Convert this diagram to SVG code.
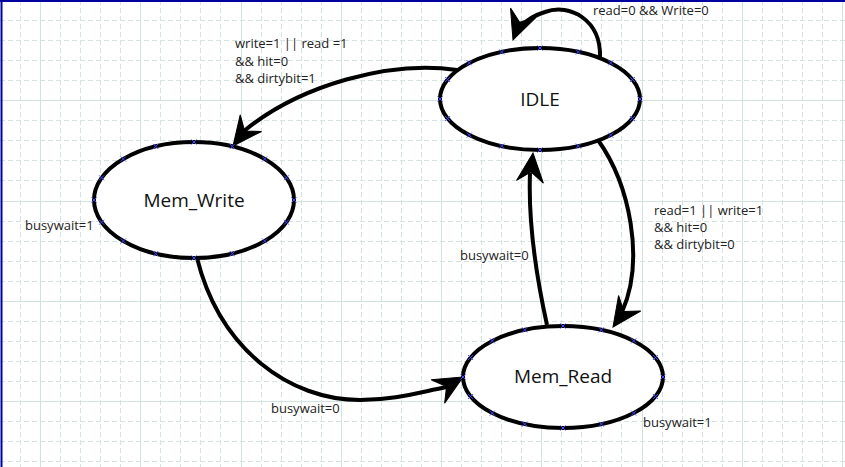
<svg xmlns="http://www.w3.org/2000/svg" xmlns:xlink="http://www.w3.org/1999/xlink" width="845" height="467" viewBox="0 0 845 467">
<style>
.gmin{fill:none;stroke:#d5e4e2;stroke-width:1;stroke-dasharray:5,3}
.gmaj{fill:none;stroke:#d2e2e0;stroke-width:1}
.node{fill:#fff;stroke:#000;stroke-width:4}
.edge{fill:none;stroke:#000;stroke-width:4}
.ah{fill:#000;stroke:#000;stroke-width:1;stroke-linejoin:miter}
.nl{font-family:"Open Sans","DejaVu Sans",sans-serif;font-size:19px;fill:#111;text-anchor:middle}
.el{font-family:"Open Sans","DejaVu Sans",sans-serif;font-size:13px;fill:#222}
.mk{fill:none;stroke:#4646ff;stroke-width:1}
</style>
<defs>
<path id="ah" class="ah" d="M0,0 L-29,-13.5 L-19,0 L-29,13.5 Z"/>
<path id="mk" class="mk" d="M-2.5,-2.5L2.5,2.5M-2.5,2.5L2.5,-2.5"/>
</defs>
<rect width="845" height="467" fill="#fff"/>
<g id="grid">
<path class="gmin" d="M20.5,0V467M60.5,0V467M80.5,0V467M100.5,0V467M120.5,0V467M160.5,0V467M180.5,0V467M200.5,0V467M220.5,0V467M261.5,0V467M281.5,0V467M301.5,0V467M321.5,0V467M361.5,0V467M381.5,0V467M401.5,0V467M421.5,0V467M461.5,0V467M481.5,0V467M501.5,0V467M521.5,0V467M561.5,0V467M581.5,0V467M601.5,0V467M621.5,0V467M662.5,0V467M682.5,0V467M702.5,0V467M722.5,0V467M762.5,0V467M782.5,0V467M802.5,0V467M822.5,0V467"/>
<path class="gmin" d="M0,20.5H845M0,40.5H845M0,60.5H845M0,80.5H845M0,120.5H845M0,140.5H845M0,160.5H845M0,180.5H845M0,221.5H845M0,241.5H845M0,261.5H845M0,281.5H845M0,321.5H845M0,341.5H845M0,361.5H845M0,381.5H845M0,421.5H845M0,441.5H845M0,461.5H845"/>
<path class="gmaj" d="M40.5,0V467M140.5,0V467M241.5,0V467M341.5,0V467M441.5,0V467M541.5,0V467M642.5,0V467M742.5,0V467M842.5,0V467M0,100.5H845M0,201.5H845M0,301.5H845M0,401.5H845"/>
<path d="M0,1H845M1.5,0V467" fill="none" stroke="#0000a0" stroke-width="2"/>
</g>
<g id="connectors">
<path class="edge" d="M600,57 C601,20 570,3 545,12 C535,15 527,20 521,26"/>
<use href="#ah" transform="translate(513,40) rotate(110.5)"/>
<path class="edge" d="M457,70 C390,60 300,85 244,131"/>
<use href="#ah" transform="translate(233,146) rotate(128)"/>
<path class="edge" d="M598,140 C630,185 645,260 622,312"/>
<use href="#ah" transform="translate(613,327) rotate(125)"/>
<path class="edge" d="M547,325 C536,275 528,225 530,173"/>
<use href="#ah" transform="translate(533,153) rotate(-84)"/>
<path class="edge" d="M197,258 C220,350 290,400 360,400 C395,400 420,392 447,387"/>
<use href="#ah" transform="translate(463,377) rotate(-30)"/>
<text class="el" x="593" y="15">read=0 &amp;&amp; Write=0</text>
<text class="el" x="235" y="48">write=1 || read =1</text>
<text class="el" x="235" y="65.5">&amp;&amp; hit=0</text>
<text class="el" x="235" y="82.5">&amp;&amp; dirtybit=1</text>
<text class="el" x="25" y="230">busywait=1</text>
<text class="el" x="654" y="215">read=1 || write=1</text>
<text class="el" x="654" y="232">&amp;&amp; hit=0</text>
<text class="el" x="654" y="249">&amp;&amp; dirtybit=0</text>
<text class="el" x="460" y="260">busywait=0</text>
<text class="el" x="271" y="413">busywait=0</text>
<text class="el" x="643" y="427">busywait=1</text>
</g>
<g id="IDLE">
<ellipse class="node" cx="540" cy="99" rx="100" ry="51"/>
<text class="nl" x="540" y="106">IDLE</text>
<use href="#mk" x="640" y="99"/><use href="#mk" x="632.4" y="118.5"/><use href="#mk" x="610.7" y="135.1"/><use href="#mk" x="578.3" y="146.1"/><use href="#mk" x="540" y="150"/><use href="#mk" x="501.7" y="146.1"/><use href="#mk" x="469.3" y="135.1"/><use href="#mk" x="447.6" y="118.5"/><use href="#mk" x="440" y="99"/><use href="#mk" x="447.6" y="79.5"/><use href="#mk" x="469.3" y="62.9"/><use href="#mk" x="501.7" y="51.9"/><use href="#mk" x="540" y="48"/><use href="#mk" x="578.3" y="51.9"/><use href="#mk" x="610.7" y="62.9"/><use href="#mk" x="632.4" y="79.5"/>
</g>
<g id="Mem_Write">
<ellipse class="node" cx="194" cy="200" rx="100" ry="58"/>
<text class="nl" x="194" y="207">Mem_Write</text>
<use href="#mk" x="294" y="200"/><use href="#mk" x="286.4" y="222.2"/><use href="#mk" x="264.7" y="241"/><use href="#mk" x="232.3" y="253.6"/><use href="#mk" x="194" y="258"/><use href="#mk" x="155.7" y="253.6"/><use href="#mk" x="123.3" y="241"/><use href="#mk" x="101.6" y="222.2"/><use href="#mk" x="94" y="200"/><use href="#mk" x="101.6" y="177.8"/><use href="#mk" x="123.3" y="159"/><use href="#mk" x="155.7" y="146.4"/><use href="#mk" x="194" y="142"/><use href="#mk" x="232.3" y="146.4"/><use href="#mk" x="264.7" y="159"/><use href="#mk" x="286.4" y="177.8"/>
</g>
<g id="Mem_Read">
<ellipse class="node" cx="563" cy="377" rx="100" ry="51"/>
<text class="nl" x="563" y="383">Mem_Read</text>
<use href="#mk" x="663" y="377"/><use href="#mk" x="655.4" y="396.5"/><use href="#mk" x="633.7" y="413.1"/><use href="#mk" x="601.3" y="424.1"/><use href="#mk" x="563" y="428"/><use href="#mk" x="524.7" y="424.1"/><use href="#mk" x="492.3" y="413.1"/><use href="#mk" x="470.6" y="396.5"/><use href="#mk" x="463" y="377"/><use href="#mk" x="470.6" y="357.5"/><use href="#mk" x="492.3" y="340.9"/><use href="#mk" x="524.7" y="329.9"/><use href="#mk" x="563" y="326"/><use href="#mk" x="601.3" y="329.9"/><use href="#mk" x="633.7" y="340.9"/><use href="#mk" x="655.4" y="357.5"/>
</g>
</svg>
